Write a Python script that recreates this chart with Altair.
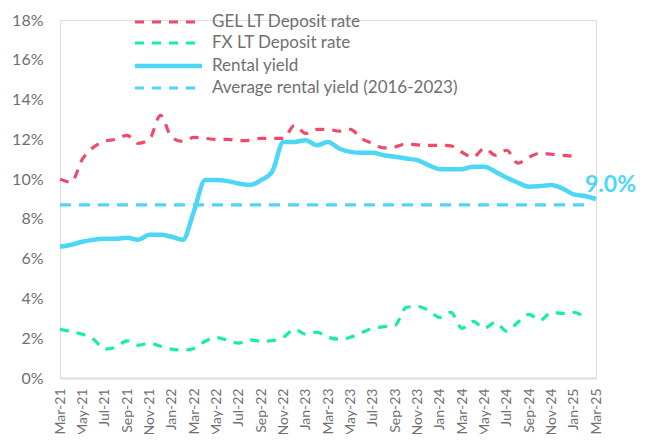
import altair as alt
import pandas as pd

months = [
    "Mar-21", "Apr-21", "May-21", "Jun-21", "Jul-21", "Aug-21", "Sep-21", "Oct-21", "Nov-21", "Dec-21",
    "Jan-22", "Feb-22", "Mar-22", "Apr-22", "May-22", "Jun-22", "Jul-22", "Aug-22", "Sep-22", "Oct-22",
    "Nov-22", "Dec-22", "Jan-23", "Feb-23", "Mar-23", "Apr-23", "May-23", "Jun-23", "Jul-23", "Aug-23",
    "Sep-23", "Oct-23", "Nov-23", "Dec-23", "Jan-24", "Feb-24", "Mar-24", "Apr-24", "May-24", "Jun-24",
    "Jul-24", "Aug-24", "Sep-24", "Oct-24", "Nov-24", "Dec-24", "Jan-25", "Feb-25", "Mar-25",
]

tick_labels = months[::2]

rental_yield = [
    6.6, 6.7, 6.85, 6.95, 7.0, 7.0, 7.05, 6.95, 7.2, 7.2, 7.1, 6.95,
    8.4, 9.95, 9.95, 9.9, 9.78, 9.7, 9.95, 10.37, 11.87, 11.87, 11.96, 11.7,
    11.87, 11.54, 11.37, 11.32, 11.32, 11.2, 11.12, 11.04, 10.95, 10.7, 10.5, 10.49,
    10.5, 10.62, 10.62, 10.37, 10.07, 9.82, 9.62, 9.65, 9.7, 9.53, 9.23, 9.15, 9.0,
]

gel_deposit = [
    10.0, 9.85, 11.0, 11.6, 11.9, 12.0, 12.2, 11.8, 12.0, 13.2, 12.1, 11.9,
    12.1, 12.05, 12.0, 12.0, 11.93, 11.95, 12.05, 12.05, 12.05, 12.7, 12.3, 12.5,
    12.5, 12.41, 12.5, 12.04, 11.79, 11.57, 11.62, 11.77, 11.72, 11.7, 11.7, 11.67,
    11.35, 11.1, 11.55, 11.2, 11.45, 10.8, 11.1, 11.3, 11.25, 11.2, 11.15,
]

fx_deposit = [
    2.45, 2.33, 2.2, 1.95, 1.45, 1.55, 1.87, 1.65, 1.75, 1.6, 1.45, 1.4,
    1.48, 1.85, 2.03, 1.9, 1.75, 1.92, 1.85, 1.88, 2.05, 2.45, 2.2, 2.3,
    2.05, 1.95, 2.05, 2.28, 2.5, 2.58, 2.65, 3.55, 3.6, 3.4, 3.05, 3.3,
    2.5, 2.85, 2.5, 2.8, 2.35, 2.8, 3.2, 2.9, 3.3, 3.25, 3.3, 3.05,
]

avg_months = ["Mar-21", "Feb-25"]
avg_rental_yield = [8.7, 8.7]

series_names = ["GEL LT Deposit rate", "FX LT Deposit rate", "Rental yield", "Average rental yield (2016-2023)"]
RED = "#EE4B6A"
GREEN = "#14EFA0"
CYAN = "#4CD7F6"
FONT = "Lato"
GREY = "#707070"

df_rent = pd.DataFrame({"month": months, "value": rental_yield})
df_gel = pd.DataFrame({"month": months[:len(gel_deposit)], "value": gel_deposit})
df_fx = pd.DataFrame({"month": months[:len(fx_deposit)], "value": fx_deposit})
df_avg = pd.DataFrame({"month": avg_months, "value": avg_rental_yield})
df_last = df_rent.tail(1).assign(label=lambda d: d["value"].map(lambda v: f"{v:.1f}%"))

x_enc = alt.X(
    "month:O",
    scale=alt.Scale(type="point", domain=months, padding=0),
    axis=alt.Axis(
        values=tick_labels, labelAngle=-90, labelAlign="right", labelBaseline="middle",
        labelPadding=10, ticks=False, domain=True, domainColor="#dcdcdc", domainWidth=2,
        labelFontSize=14, labelColor=GREY, labelFont=FONT, title=None, grid=False,
        labelOverlap=False,
    ),
)
y_enc = alt.Y(
    "value:Q",
    scale=alt.Scale(domain=[0, 18], nice=False, zero=True),
    axis=alt.Axis(
        values=list(range(0, 19, 2)), labelExpr="datum.value + '%'", ticks=False, domain=False,
        grid=False, labelPadding=17, labelFontSize=16, labelColor=GREY, labelFont=FONT, title=None,
    ),
)

gel = alt.Chart(df_gel).mark_line(color=RED, strokeWidth=3.2, strokeDash=[9, 8], interpolate="monotone").encode(x=x_enc, y=y_enc)
fx = alt.Chart(df_fx).mark_line(color=GREEN, strokeWidth=3.2, strokeDash=[9, 8], interpolate="monotone").encode(x=x_enc, y=y_enc)
avg = alt.Chart(df_avg).mark_line(color=CYAN, strokeWidth=3.2, strokeDash=[11, 8]).encode(x=x_enc, y=y_enc)
rent = alt.Chart(df_rent).mark_line(color=CYAN, strokeWidth=4.5, interpolate="monotone").encode(x=x_enc, y=y_enc)
last_label = alt.Chart(df_last).mark_text(
    color=CYAN, font=FONT, fontSize=23, fontWeight="bold", align="left", baseline="alphabetic", dx=-11, dy=-7
).encode(x=x_enc, y=y_enc, text="label:N")

# legend (decoration)
legend_rows = [2, 23, 46, 68]
legend_styles = [
    (RED, [9, 8], 3.2),
    (GREEN, [9, 8], 3.2),
    (CYAN, [1, 0], 4.5),
    (CYAN, [9, 8], 3.2),
]
legend_layers = []
for name, ry, (col, dash, sw) in zip(series_names, legend_rows, legend_styles):
    legend_layers.append(
        alt.Chart(alt.Data(values=[{}])).mark_rule(color=col, strokeDash=dash, strokeWidth=sw).encode(
            x=alt.value(75), x2=alt.value(142), y=alt.value(ry)
        )
    )
    legend_layers.append(
        alt.Chart(alt.Data(values=[{}])).mark_text(
            text=name, align="left", baseline="middle", fontSize=17, font=FONT, color=GREY
        ).encode(x=alt.value(152), y=alt.value(ry))
    )

chart = alt.layer(gel, fx, avg, rent, last_label, *legend_layers).properties(
    width=536,
    height=358,
    autosize=alt.AutoSizeParams(type="none"),
    padding={"left": 52, "top": 12, "right": 45, "bottom": 56},
).configure_view(stroke=None).configure(background="white")

chart.save("out.html", embed_options={"renderer": "svg", "actions": False})
